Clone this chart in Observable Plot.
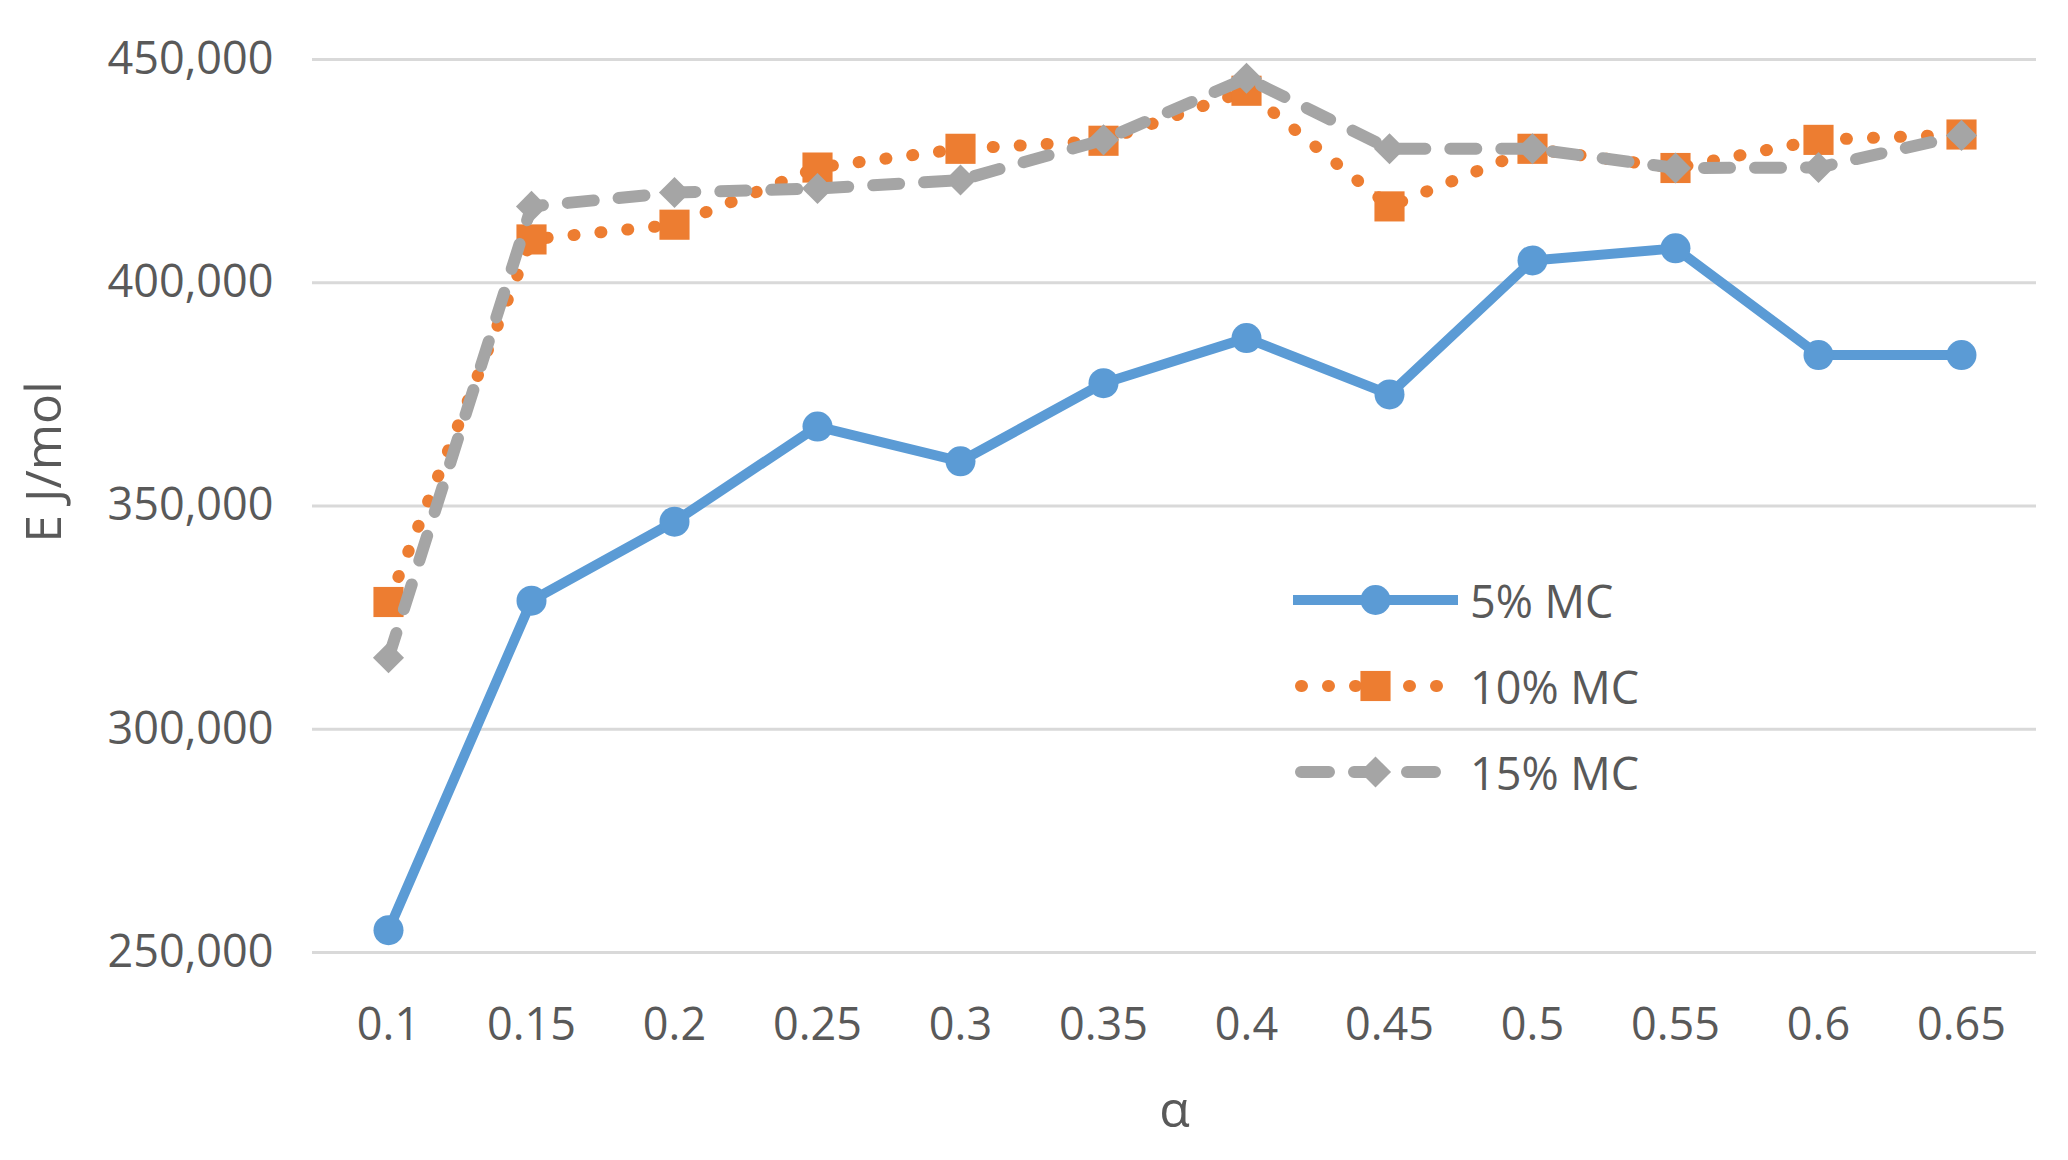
<!DOCTYPE html>
<html>
<head>
<meta charset="utf-8">
<script src="https://cdn.jsdelivr.net/npm/d3@7"></script>
<script src="https://cdn.jsdelivr.net/npm/@observablehq/plot@0.6"></script>
<style>
  html, body { margin: 0; padding: 0; background: #fff; }
  #wrap { position: relative; width: 2068px; height: 1160px; font-family: "Open Sans", sans-serif; }
  #legend { position: absolute; left: 1293px; top: 557px; }
  .row { display: flex; align-items: center; height: 86px; }
  .row span { font-size: 45px; color: #595959; margin-left: 12px; }
</style>
</head>
<body>
<div id="wrap"></div>
<script>
// Data
const alpha = ["0.1", "0.15", "0.2", "0.25", "0.3", "0.35", "0.4", "0.45", "0.5", "0.55", "0.6", "0.65"];
const mc5  = [255000, 328800, 346500, 367800, 360000, 377500, 387600, 375000, 405000, 407700, 383800, 383800];
const mc10 = [328500, 409700, 413000, 425800, 430000, 431800, 443000, 417100, 430000, 425700, 432000, 433200];
const mc15 = [316000, 417100, 420200, 421100, 423000, 432000, 445800, 430000, 430000, 425700, 425800, 433000];
const seriesNames = ["5% MC", "10% MC", "15% MC"];
const colors = ["#5B9BD5", "#ED7D31", "#A5A5A5"];
const yTicks = [250000, 300000, 350000, 400000, 450000];

const toRows = (vals, s) => alpha.map((a, i) => ({alpha: a, E: vals[i], series: s}));
const d5 = toRows(mc5, seriesNames[0]);
const d10 = toRows(mc10, seriesNames[1]);
const d15 = toRows(mc15, seriesNames[2]);

const chart = Plot.plot({
  width: 2068,
  height: 1160,
  marginLeft: 312,
  marginRight: 32,
  marginTop: 59,
  marginBottom: 208,
  style: {fontFamily: "'Open Sans', sans-serif", fontSize: "45px", color: "#595959", background: "#fff"},
  x: {type: "point", domain: alpha, padding: 0.5},
  y: {domain: [250000, 450000], ticks: yTicks},
  marks: [
    Plot.gridY(yTicks, {stroke: "#D9D9D9", strokeOpacity: 1, strokeWidth: 3}),
    Plot.axisY({ticks: yTicks, tickSize: 0, tickPadding: 39, tickFormat: d3.format(","), label: null, fontSize: 45, fill: "#595959"}),
    Plot.axisX({tickSize: 0, tickPadding: 56, label: null, fontSize: 45, fill: "#595959"}),
    Plot.text(["E J/mol"], {frameAnchor: "left", dx: -268, dy: -44, rotate: -90, lineAnchor: "middle", textAnchor: "middle", fontSize: 50, fill: "#595959"}),
    Plot.text(["α"], {frameAnchor: "bottom", dy: 158, lineAnchor: "middle", textAnchor: "middle", fontSize: 50, fill: "#595959"}),
    // 5% MC
    Plot.line(d5, {x: "alpha", y: "E", stroke: colors[0], strokeWidth: 10, strokeLinejoin: "round"}),
    Plot.dot(d5, {x: "alpha", y: "E", r: 15, fill: colors[0], stroke: "none"}),
    // 10% MC
    Plot.line(d10, {x: "alpha", y: "E", stroke: colors[1], strokeWidth: 12, strokeDasharray: "1 26", strokeLinecap: "round"}),
    Plot.dot(d10, {x: "alpha", y: "E", symbol: "square", r: 17, fill: colors[1], stroke: "none"}),
    // 15% MC
    Plot.line(d15, {x: "alpha", y: "E", stroke: colors[2], strokeWidth: 12, strokeDasharray: "26 25", strokeLinecap: "round"}),
    Plot.dot(d15, {x: "alpha", y: "E", symbol: "diamond2", r: 14, fill: colors[2], stroke: "none"})
  ]
});

const wrap = document.getElementById("wrap");
wrap.appendChild(chart);

// Legend
const legend = document.createElement("div");
legend.id = "legend";
const styles = [
  {dash: null, width: 10, cap: "butt", marker: "circle"},
  {dash: "1 26", width: 12, cap: "round", marker: "square"},
  {dash: "28 25", width: 12, cap: "round", marker: "diamond"}
];
seriesNames.forEach((name, i) => {
  const row = document.createElement("div");
  row.className = "row";
  const svg = d3.create("svg").attr("width", 165).attr("height", 50);
  const st = styles[i];
  const ln = svg.append("line").attr("x1", st.cap === "round" ? 8 : 0).attr("x2", st.cap === "round" ? 157 : 165)
    .attr("y1", 25).attr("y2", 25).attr("stroke", colors[i]).attr("stroke-width", st.width)
    .attr("stroke-linecap", st.cap);
  if (st.dash) ln.attr("stroke-dasharray", st.dash);
  const sym = st.marker === "circle" ? d3.symbolCircle : st.marker === "square" ? d3.symbolSquare : d3.symbolDiamond2;
  const r = st.marker === "circle" ? 15 : st.marker === "square" ? 17 : 14;
  svg.append("path").attr("transform", "translate(82.5,25)")
    .attr("d", d3.symbol(sym, Math.PI * r * r)()).attr("fill", colors[i]);
  row.appendChild(svg.node());
  const sp = document.createElement("span");
  sp.textContent = name;
  row.appendChild(sp);
  legend.appendChild(row);
});
wrap.appendChild(legend);
</script>
</body>
</html>
